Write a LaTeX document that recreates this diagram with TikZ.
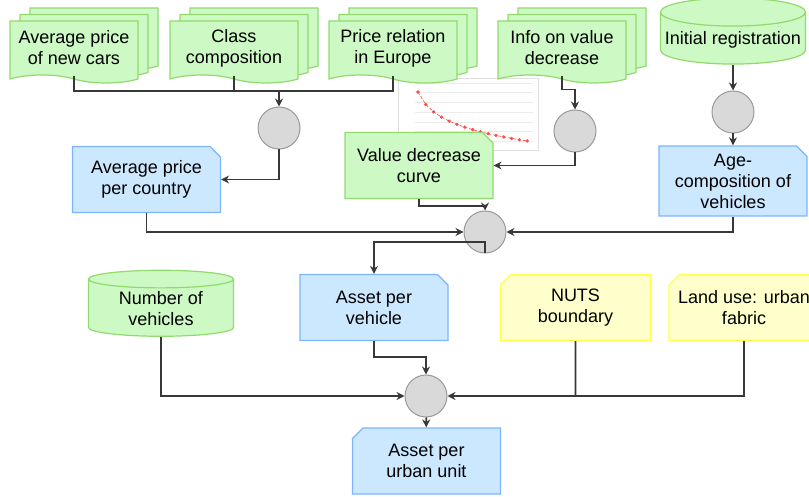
\documentclass[tikz,border=0pt]{standalone}
\usepackage{fontspec}
\setmainfont{Liberation Sans}
\usetikzlibrary{shapes.geometric, shapes.misc, shapes.symbols, shadows, arrows.meta, positioning}
\definecolor{docfill}{HTML}{CCF9C4}
\definecolor{docline}{HTML}{92DA6E}
\definecolor{resfill}{HTML}{CCE8FF}
\definecolor{resline}{HTML}{7DB4FF}
\definecolor{extfill}{HTML}{FFFFCC}
\definecolor{extline}{HTML}{FFFF4D}
\definecolor{mergefill}{HTML}{D9D9D9}
\definecolor{mergeline}{HTML}{999999}
\definecolor{wire}{HTML}{383838}
\tikzstyle{docstack} = [tape, tape bend top=none, tape bend bottom=out and in, tape bend height=8pt,
                        minimum width=128pt, minimum height=62pt, draw=docline, fill=docfill, line width=1.2pt,
                        double copy shadow={shadow xshift=10pt, shadow yshift=6.5pt}]
\tikzstyle{dataset}  = [cylinder, shape border rotate=90, aspect=0.2, minimum width=145pt, minimum height=66pt,
                        draw=docline, fill=docfill, line width=1.2pt]
\tikzstyle{result}   = [chamfered rectangle, chamfered rectangle corners=north east, chamfered rectangle xsep=7pt,
                        minimum width=148pt, minimum height=66pt, draw=resline, fill=resfill, line width=1.2pt]
\tikzstyle{interim}  = [result, draw=docline, fill=docfill]
\tikzstyle{extern}   = [result, chamfered rectangle corners=north west, draw=extline, fill=extfill, minimum width=150pt]
\tikzstyle{merge}    = [circle, minimum size=42pt, inner sep=0pt, draw=mergeline, fill=mergefill, line width=1pt]
\tikzstyle{link}     = [draw=wire, line width=1.7pt]
\tikzstyle{arrow}    = [link, -{Stealth[length=8pt, width=8pt]}]

\begin{document}
\begin{tikzpicture}[x=1pt, y=-1pt, every node/.style={font=\fontsize{18}{21}\selectfont, text=black, align=center, inner sep=2pt}]
    \clip (0,0) rectangle (809,497);
    % small chart of the value decrease
    \draw[gray!25, fill=white] (398,78) rectangle (538,150);
    \foreach \gy in {83,92,102,112,122,131,141}
        \draw[gray!15] (415,\gy) -- (533,\gy);
    \draw[red!70, densely dashed, line width=0.7pt] plot[domain=0:14, samples=15, mark=*, mark size=1.3pt, mark options={solid}]
        ({418+7.8*\x}, {92+49*ln(1+\x)/ln(15)});

    \node (avgnew) [docstack] at (74,48) {Average price\\of new cars};
    \node (classcomp) [docstack] at (234,48) {Class\\composition};
    \node (pricerel) [docstack] at (393,48) {Price relation\\in Europe};
    \node (valinfo) [docstack] at (562,48) {Info on value\\decrease};
    \node (initreg) [dataset] at (733,40) {Initial registration};

    \node (m1) [merge] at (279,128) {};
    \node (m2) [merge] at (575,131) {};
    \node (m4) [merge] at (733,112) {};
    \node (avgcountry) [result] at (146.5,179.5) {Average price\\per country};
    \node (valcurve) [interim] at (419,165.5) {Value decrease\\curve};
    \node (agecomp) [result, minimum height=70pt] at (733,181) {Age-\\composition of\\vehicles};
    \node (m3) [merge] at (485,232) {};

    \node (numveh) [dataset] at (161,309) {Number of\\vehicles};
    \node (assetveh) [result] at (374,307.5) {Asset per\\vehicle};
    \node (nuts) [extern] at (575.5,307.5) {NUTS\\boundary};
    \node (landuse) [extern] at (744,307.5) {Land use: urban\\fabric};
    \node (m5) [merge] at (426,396) {};
    \node (assetunit) [result, chamfered rectangle corners=north west] at (426.5,461) {Asset per\\urban unit};

    \coordinate (bus) at (279,91);
    \draw[link] (avgnew.south) |- (bus) -| (pricerel.south);
    \draw[link] (classcomp.south) -- (classcomp.south |- bus);
    \draw[arrow] (bus) -- (m1);
    \draw[arrow] (m1) |- (avgcountry.east);
    \draw[arrow] (avgcountry.south) |- (m3);
    \draw[arrow] (valinfo.south) -- ++(0,14) -| (m2);
    \draw[arrow] (m2) |- (valcurve.east);
    \draw[arrow] (valcurve.south) -- ++(0,7) -| (m3);
    \draw[arrow] (initreg) -- (m4);
    \draw[arrow] (m4) -- (agecomp);
    \draw[arrow] (agecomp.south) |- (m3);
    \draw[arrow] (m3) -- ++(0,10) -| (assetveh);
    \draw[arrow] (assetveh.south) -- ++(0,16) -| (m5);
    \draw[arrow] (numveh) |- (m5);
    \draw[link] (nuts) -- (nuts |- m5);
    \draw[arrow] (landuse) |- (m5);
    \draw[arrow] (m5) -- (assetunit);
\end{tikzpicture}
\end{document}
